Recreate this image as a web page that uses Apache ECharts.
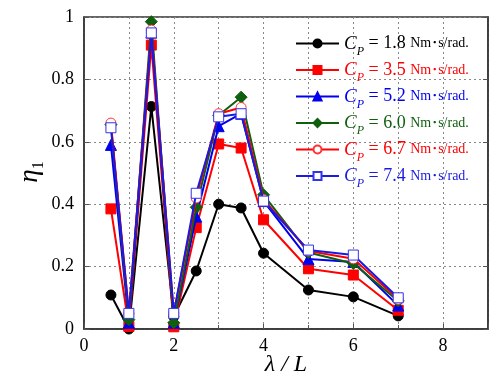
<!DOCTYPE html>
<html><head><meta charset="utf-8">
<script src="https://cdn.jsdelivr.net/npm/echarts@6/dist/echarts.min.js"></script>
<style>html,body{margin:0;padding:0;background:#fff}#c{width:500px;height:387px}</style>
</head><body><div id="c"></div>
<script>
const xVals = [0.6, 1, 1.5, 2, 2.5, 3, 3.5, 4, 5, 6, 7];
const cp18 = [0.109, 0.0, 0.713, 0.04, 0.186, 0.40, 0.388, 0.243, 0.125, 0.103, 0.042];
const cp35 = [0.385, 0.008, 0.91, 0.007, 0.325, 0.593, 0.58, 0.35, 0.193, 0.173, 0.06];
const cp52 = [0.59, 0.02, 0.95, 0.02, 0.36, 0.65, 0.69, 0.41, 0.224, 0.215, 0.075];
const cp60 = [0.655, 0.03, 0.985, 0.02, 0.39, 0.685, 0.743, 0.43, 0.245, 0.21, 0.09];
const cp67 = [0.66, 0.05, 0.958, 0.05, 0.42, 0.69, 0.71, 0.415, 0.25, 0.225, 0.095];
const cp74 = [0.645, 0.05, 0.949, 0.05, 0.435, 0.68, 0.69, 0.41, 0.253, 0.237, 0.1];
const cpLabels = ['1.8', '3.5', '5.2', '6.0', '6.7', '7.4'];
const xTicks = [0, 2, 4, 6, 8];
const yTicks = [0, 0.2, 0.4, 0.6, 0.8, 1];

const serif = 'Liberation Serif, DejaVu Serif, serif';
const pairs = v => xVals.map((x, i) => [x, v[i]]);
const styles = [
  {line:'#000000', sym:'circle', size:10, fill:'#000000', border:'#000000'},
  {line:'#ff0000', sym:'rect', size:10, fill:'#ff0000', border:'#ff0000'},
  {line:'#0000ee', sym:'triangle', size:11, fill:'#0000ee', border:'#0000ee'},
  {line:'#0f5f0f', sym:'diamond', size:12, fill:'#0f5f0f', border:'#0f5f0f'},
  {line:'#ff0000', sym:'circle', size:10, fill:'#ffffff', border:'#ff3333'},
  {line:'#1a1ae0', sym:'rect', size:10, fill:'#ffffff', border:'#3333ee'}
];
const dataSets = [cp18, cp35, cp52, cp60, cp67, cp74];
const series = dataSets.map((d, i) => ({
  name: cpLabels[i], type: 'line', data: pairs(d),
  symbol: styles[i].sym, symbolSize: styles[i].size, showSymbol: true,
  lineStyle: {color: styles[i].line, width: 2},
  itemStyle: {color: styles[i].fill, borderColor: styles[i].border, borderWidth: 1},
  emphasis: {disabled: true}, animation: false, z: 2 + i
}));
const textCol = ['#000000', '#ff0000', '#0000ee', '#0f5f0f', '#ff0000', '#1a1ae0'];

const chart = echarts.init(document.getElementById('c'), null, {renderer: 'canvas'});
chart.setOption({
  animation: false,
  textStyle: {fontFamily: serif},
  grid: {left: 84, right: 12, top: 17, bottom: 58, show: true, borderColor: '#333', borderWidth: 1.5, backgroundColor: 'transparent'},
  xAxis: [{
    type: 'value', min: 0, max: 9, interval: 2,
    axisLine: {show: true, lineStyle: {color: '#333', width: 1.5}},
    axisTick: {show: true, inside: true, length: 5, lineStyle: {color: '#555'}},
    minorTick: {show: true, splitNumber: 2, length: 4, lineStyle: {color: '#555'}},
    splitLine: {show: true, lineStyle: {color: '#888', type: [2, 3], width: 1}},
    minorSplitLine: {show: true, lineStyle: {color: '#888', type: [2, 3], width: 1}},
    axisLabel: {fontFamily: serif, fontSize: 18, color: '#000', margin: 8,
      formatter: v => (xTicks.indexOf(v) >= 0 ? String(v) : '')}
  }],
  yAxis: [{
    type: 'value', min: 0, max: 1, interval: 0.2,
    axisLine: {show: true, lineStyle: {color: '#333', width: 1.5}},
    axisTick: {show: true, inside: true, length: 5, lineStyle: {color: '#555'}},
    splitLine: {show: true, lineStyle: {color: '#888', type: [2, 3], width: 1}},
    axisLabel: {fontFamily: serif, fontSize: 18, color: '#000', margin: 10,
      formatter: v => { const t = yTicks.find(k => Math.abs(k - v) < 1e-9); return t === undefined ? '' : String(t); }}
  }, {
    type: 'value', min: 0, max: 1, interval: 0.2, position: 'right',
    axisLine: {show: true, lineStyle: {color: '#333', width: 1.5}},
    axisTick: {show: true, inside: true, length: 5, lineStyle: {color: '#555'}},
    splitLine: {show: false}, axisLabel: {show: false}
  }],
  legend: {
    orient: 'vertical', left: 290, top: 29, itemWidth: 43, itemHeight: 10, itemGap: 3,
    selectedMode: false,
    data: cpLabels.map((n, i) => ({name: n, textStyle: {color: textCol[i]}})),
    formatter: name => '{c|C}{p|P}{t| = ' + name + ' }{u|Nm･s/rad.}',
    textStyle: {
      fontFamily: serif, fontSize: 18, padding: [0, 0, 0, 0],
      rich: {
        c: {fontFamily: serif, fontSize: 19, fontStyle: 'italic', verticalAlign: 'middle', lineHeight: 18},
        p: {fontFamily: serif, fontSize: 12, fontStyle: 'italic', verticalAlign: 'bottom', lineHeight: 28},
        t: {fontFamily: serif, fontSize: 18, verticalAlign: 'middle', lineHeight: 18},
        u: {fontFamily: serif + ', Noto Sans CJK JP', fontSize: 14, verticalAlign: 'middle', lineHeight: 18}
      }
    }
  },
  graphic: [
    {type: 'text', x: 30, y: 172, rotation: Math.PI / 2,
      style: {text: '{e|η}{s|1}', align: 'center', verticalAlign: 'middle',
        rich: {e: {fontFamily: serif, fontSize: 27, fontStyle: 'italic', verticalAlign: 'middle', lineHeight: 26},
               s: {fontFamily: serif, fontSize: 16, verticalAlign: 'bottom', lineHeight: 34}}}},
    {type: 'text', x: 286, y: 365,
      style: {text: 'λ / L', fontFamily: serif, fontSize: 24, fontStyle: 'italic', fill: '#000', align: 'center', verticalAlign: 'middle'}}
  ],
  series: series
});
</script></body></html>
